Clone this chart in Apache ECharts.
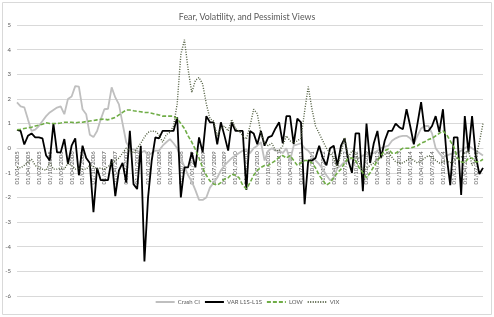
<!DOCTYPE html>
<html>
<head>
<meta charset="utf-8">
<title>Fear, Volatility, and Pessimist Views</title>
<script src="https://cdn.jsdelivr.net/npm/echarts@6/dist/echarts.min.js"></script>
<style>
  html, body { margin: 0; padding: 0; background: #fff; }
  #chart { width: 494px; height: 317px; }
</style>
</head>
<body>
<div id="chart"></div>
<script>
// monthly dates, 01/01/2005 onwards
const months = []
for (let k = 0; k < 129; k++) {
  const y = 2005 + Math.floor(k / 12)
  const m = (k % 12) + 1
  months.push('01/' + (m < 10 ? '0' + m : m) + '/' + y)
}

const crashCI = [
  1.86, 1.7, 1.66, 1.17, 0.7, 0.75, 0.9, 1.1, 1.3, 1.45,
  1.55, 1.65, 1.7, 1.38, 2.0, 2.1, 2.52, 2.5, 1.58, 1.38,
  0.55, 0.45, 0.7, 1.17, 1.58, 1.6, 2.47, 2.06, 1.78, 1.0,
  0.24, 0.0, -0.05, -0.1, -0.2, -0.1, -0.3, -0.2, -0.1, -0.1,
  0.1, 0.24, 0.37, 0.2, 0.0, -0.4, -0.75, -1.1, -1.35, -1.7,
  -2.1, -2.1, -2.0, -1.6, -1.4, -1.2, -0.9, -0.7, -0.55, -0.4,
  -0.3, -0.2, -0.1, -0.05, -0.2, 0.0, 0.1, 0.24, -0.5, -0.1,
  0.0, -0.1, -0.1, -0.2, 0.0, -0.5, 0.1, 0.15, 0.2, 0.0,
  -0.1, -0.3, -0.5, -0.65, -0.85, -1.1, -1.3, -1.2, -0.8, -0.7,
  -0.55, -0.5, -0.4, -0.37, -0.4, -0.3, -0.24, -0.2, -0.2, -0.1,
  0.0, 0.05, 0.1, 0.3, 0.4, 0.47, 0.5, 0.5, 0.4, 0.2,
  0.5, 0.8, 0.9, 0.9, 0.6, 0.0, -0.2, -0.37, -0.3, -0.24,
  -0.2, -0.2, -0.1, 0.0, 0.1, 0.0, -0.1, -0.2, -0.3
]

const varL1S = [
  0.74, 0.7, 0.15, 0.5, 0.6, 0.44, 0.44, 0.4, -0.3, -0.5,
  1.0, -0.17, -0.17, 0.37, -0.65, 0.1, 0.4, -1.1, 0.1, -0.4,
  -0.6, -2.6, -0.8, -1.3, -1.3, -1.3, -0.45, -1.95, -0.9, -0.6,
  -1.4, 0.7, -1.46, -1.66, 0.1, -4.6, -2.0, -0.5, 0.44, 0.4,
  0.7, 0.7, 0.7, 0.7, 1.25, -2.0, -0.78, -0.78, -0.17, -0.78,
  0.44, -0.17, 1.3, 1.05, 1.05, 0.16, 1.05, 0.5, -0.1, 1.05,
  0.7, 0.7, 0.7, -1.7, 0.7, 0.6, 0.16, 0.7, 0.1, 0.44,
  0.5, 0.8, 1.05, 0.2, 1.3, 1.3, 0.16, 1.2, 1.05, -2.27,
  -0.5, -0.5, -0.4, 0.1, -0.4, -0.7, 0.0, 0.1, -0.7, 0.1,
  0.4, -0.5, -1.0, 0.6, 0.6, -1.75, 1.0, -0.6, 0.2, 0.7,
  -0.4, 0.3, 0.7, 0.7, 1.0, 0.85, 0.77, 1.58, 0.9, 0.16,
  1.0, 1.87, 0.7, 0.7, 0.9, 1.3, 0.65, 1.58, -0.3, -1.5,
  0.44, 0.44, -1.9, 1.3, -0.17, 1.3, -0.3, -1.05, -0.8
]

const low = [
  0.75, 0.77, 0.8, 0.83, 0.85, 0.9, 0.93, 0.97, 1.03, 1.0,
  1.0, 1.0, 1.02, 1.05, 1.05, 1.05, 1.03, 1.05, 1.05, 1.08,
  1.1, 1.12, 1.15, 1.17, 1.18, 1.15, 1.2, 1.25, 1.35, 1.45,
  1.55, 1.55, 1.52, 1.5, 1.48, 1.45, 1.45, 1.42, 1.38, 1.35,
  1.3, 1.3, 1.3, 1.3, 1.2, 1.0, 0.8, 0.5, 0.25, -0.05,
  -0.4, -0.8, -1.1, -1.33, -1.45, -1.5, -1.4, -1.25, -1.2, -1.05,
  -1.1, -1.2, -1.5, -1.65, -1.4, -1.1, -0.9, -0.78, -0.7, -0.7,
  -0.6, -0.5, -0.37, -0.3, -0.4, -0.3, -0.5, -0.7, -0.6, -0.5,
  -0.5, -0.6, -0.8, -1.1, -1.3, -1.5, -1.4, -1.2, -1.0, -0.85,
  -0.6, -0.4, -0.4, -0.5, -0.8, -1.0, -1.2, -1.0, -0.75, -0.5,
  -0.3, -0.1, -0.04, -0.2, -0.2, -0.1, 0.0, 0.0, 0.0, 0.05,
  0.1, 0.2, 0.26, 0.35, 0.4, 0.5, 0.6, 0.7, 0.55, 0.3,
  0.05, -0.4, -0.55, -0.6, -0.4, -0.4, -0.55, -0.55, -0.45
]

const vix = [
  -0.78, -0.8, -0.7, -0.57, -0.45, -0.7, -0.78, -0.85, -0.9, -0.6,
  -0.85, -0.85, -0.8, -0.85, -0.6, -0.7, -0.85, -0.8, -0.85, -0.85,
  -0.7, -0.75, -0.85, -0.8, -0.85, -0.75, -0.6, -0.5, -0.4, -0.2,
  0.0, -0.1, -0.2, 0.0, 0.2, 0.45, 0.64, 0.7, 0.68, 0.55,
  0.24, 0.55, 0.64, 0.9, 1.8, 3.8, 4.4, 3.2, 2.26, 2.75,
  2.87, 2.6, 1.8, 1.2, 1.1, 0.5, 0.8, 0.9, 0.7, 1.17,
  0.8, 0.7, 0.5, 0.37, 0.9, 1.58, 1.4, 0.6, 0.2, 0.1,
  0.2, -0.1, -0.1, 0.1, 0.5, 0.3, 0.2, 0.3, 0.4, 1.5,
  2.5, 1.6, 0.9, 0.6, 0.3, 0.0, -0.2, -0.4, -0.8, -0.2,
  0.44, -0.37, -0.1, -0.2, -0.6, -0.9, -0.8, -0.7, -0.6, -0.45,
  -0.37, -0.25, -0.17, -0.37, -0.55, -0.6, -0.6, -0.5, -0.4, -0.5,
  -0.6, -0.5, -0.4, -0.3, -0.35, -0.5, -0.6, -0.55, -0.5, -0.6,
  -0.5, -0.4, -0.37, -0.2, -0.1, -0.7, -0.4, 0.24, 1.0
]

const yTicks = [-6, -5, -4, -3, -2, -1, 0, 1, 2, 3, 4, 5]

const textColor = '#595959'
const gridColor = '#d9d9d9'

// plot box
const gridTop = 25
const gridBottom = 21
const chartHeight = 317
const yMin = yTicks[0]
const yMax = yTicks[yTicks.length - 1]
const plotH = chartHeight - gridTop - gridBottom
// move the category axis up to the zero line
const zeroOffset = -plotH * (0 - yMin) / (yMax - yMin)

const chart = echarts.init(document.getElementById('chart'))

chart.setOption({
  animation: false,
  title: {
    text: 'Fear, Volatility, and Pessimist Views',
    left: 'center',
    top: 8,
    textStyle: {
      color: textColor,
      fontFamily: 'Lato',
      fontSize: 8.8,
      fontWeight: 'normal',
    },
  },
  graphic: [
    {
      type: 'rect',
      shape: { x: 2.5, y: 2.5, width: 489, height: 312 },
      style: { fill: 'none', stroke: gridColor, lineWidth: 1 },
      silent: true,
    },
  ],
  legend: {
    bottom: 7,
    left: 'center',
    itemWidth: 19,
    itemHeight: 6,
    itemGap: 4,
    itemStyle: { opacity: 0 },
    textStyle: { color: textColor, fontFamily: 'Lato', fontSize: 6, padding: [0, 0, 0, -2] },
    data: ['Crash CI', 'VAR L1S-L1S', 'LOW', 'VIX'],
  },
  grid: {
    left: 17,
    right: 11,
    top: gridTop,
    bottom: gridBottom,
    containLabel: false,
  },
  xAxis: {
    type: 'category',
    boundaryGap: false,
    data: months,
    offset: zeroOffset,
    axisLine: { onZero: false, lineStyle: { color: gridColor } },
    axisTick: { show: false },
    axisLabel: {
      interval: 2,
      rotate: 90,
      color: textColor,
      fontFamily: 'Lato',
      fontSize: 6,
      margin: 3,
    },
    splitLine: { show: false },
  },
  yAxis: {
    type: 'value',
    min: yMin,
    max: yMax,
    interval: 1,
    axisLine: { show: false },
    axisTick: { show: false },
    axisLabel: {
      color: textColor,
      fontFamily: 'Lato',
      fontSize: 6,
      margin: 6,
    },
    splitLine: { lineStyle: { color: gridColor, width: 1 } },
  },
  series: [
    {
      name: 'Crash CI',
      type: 'line',
      data: crashCI,
      symbol: 'none',
      lineStyle: { color: '#bfbfbf', width: 1.8 },
      itemStyle: { color: '#bfbfbf' },
    },
    {
      name: 'VAR L1S-L1S',
      type: 'line',
      data: varL1S,
      symbol: 'none',
      lineStyle: { color: '#000000', width: 1.8 },
      itemStyle: { color: '#000000' },
    },
    {
      name: 'LOW',
      type: 'line',
      data: low,
      symbol: 'none',
      lineStyle: { color: '#70ad47', width: 1.6, type: [4, 2] },
      itemStyle: { color: '#70ad47' },
    },
    {
      name: 'VIX',
      type: 'line',
      data: vix,
      symbol: 'none',
      lineStyle: { color: '#4e5b3c', width: 1.4, type: [1, 1.5] },
      itemStyle: { color: '#4e5b3c' },
    },
  ],
})
</script>
</body>
</html>
